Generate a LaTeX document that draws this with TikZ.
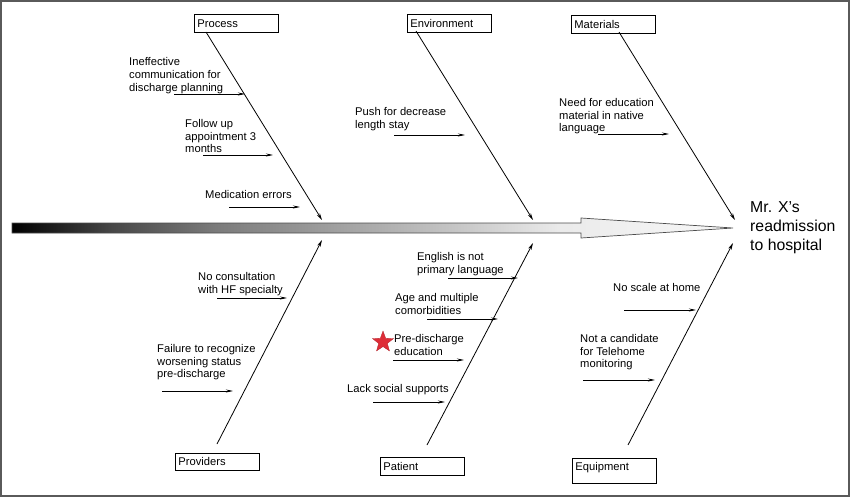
\documentclass[tikz,border=0pt]{standalone}
\usepackage{fontspec}
\setmainfont{Liberation Sans}
\usetikzlibrary{arrows.meta,shapes.geometric}
\definecolor{starred}{RGB}{222,45,55}
\definecolor{framegray}{RGB}{90,90,90}
\pgfdeclarehorizontalshading{spineshade}{100bp}{color(0bp)=(black); color(25bp)=(black); color(32bp)=(black!72); color(39bp)=(black!52); color(47bp)=(black!38); color(56bp)=(black!22); color(63bp)=(black!8); color(75bp)=(black!3); color(100bp)=(black!3)}
\begin{document}
\begin{tikzpicture}[x=1pt,y=-1pt,
  lbl/.style={anchor=north west,inner sep=0pt,align=left,font=\fontsize{11.2}{12.8}\selectfont},
  box/.style={draw,line width=0.8pt,anchor=north west,inner sep=0pt,minimum width=84pt,minimum height=18pt,font=\fontsize{11.2}{12.8}\selectfont,text width=78pt,align=left},
  bone/.style={line width=0.8pt,-{Stealth[length=7pt,width=3.5pt]}},
  sub/.style={line width=0.7pt,-{Stealth[length=7pt,width=3pt]}}]
\useasboundingbox (0,0) rectangle (850,497);
\draw[framegray,line width=1.6pt] (1,1) rectangle (849,496);

% spine
\shadedraw[shading=spineshade,draw=black!70,line width=0.7pt]
  (12,223) -- (581,223) -- (581,218) -- (733,228) -- (581,238) -- (581,233) -- (12,233) -- cycle;
\coordinate (head) at (733,228);

% category boxes
\node[box] (process) at (194,14) {Process};
\node[box] (environment) at (407,14) {Environment};
\node[box] (materials) at (571,15) {Materials};
\node[box,minimum height=17pt] (providers) at (175,453) {Providers};
\node[box] (patient) at (380,457) {Patient};
\node[box,minimum height=25pt,text depth=8pt] (equipment) at (572,458) {Equipment};

% bone endpoints
\coordinate (p0) at (206,32);   \coordinate (p1) at (322,220);
\coordinate (e0) at (416,31);   \coordinate (e1) at (533,220);
\coordinate (m0) at (619,32);   \coordinate (m1) at (735,220);
\coordinate (v0) at (217,444);  \coordinate (v1) at (322,240);
\coordinate (t0) at (427,445);  \coordinate (t1) at (533,243);
\coordinate (q0) at (628,445);  \coordinate (q1) at (733,243);
\draw[bone] (p0) -- (p1);
\draw[bone] (e0) -- (e1);
\draw[bone] (m0) -- (m1);
\draw[bone] (v0) -- (v1);
\draw[bone] (t0) -- (t1);
\draw[bone] (q0) -- (q1);

% effect
\node[anchor=north west,inner sep=0pt,align=left,font=\fontsize{15.8}{19}\selectfont] (effect) at (750,201) {Mr. X's\\readmission\\to hospital};

% cause labels
\node[lbl] (c1) at (129,57.5) {Ineffective\\communication for\\discharge planning};
\node[lbl] (c2) at (185,119) {Follow up\\appointment 3\\months};
\node[lbl] (c3) at (205,190) {Medication errors};
\node[lbl] (c4) at (355,107) {Push for decrease\\length stay};
\node[lbl] (c5) at (559,98) {Need for education\\material in native\\language};
\node[lbl] (c6) at (198,272) {No consultation\\with HF specialty};
\node[lbl] (c7) at (157,344) {Failure to recognize\\worsening status\\pre-discharge};
\node[lbl] (c8) at (417,252) {English is not\\primary language};
\node[lbl] (c9) at (395,293) {Age and multiple\\comorbidities};
\node[lbl] (c10) at (394,334) {Pre-discharge\\education};
\node[lbl] (c11) at (347,384) {Lack social supports};
\node[lbl] (c12) at (613,283) {No scale at home};
\node[lbl] (c13) at (580,334) {Not a candidate\\for Telehome\\monitoring};

\node[star,star points=5,star point ratio=2.4,fill=starred,draw=starred!80!black,line width=0.3pt,minimum size=22pt,inner sep=0pt] (star) at (383,342) {};

% cause arrows
\coordinate (a1s) at (174,94);  \coordinate (a1e) at (245,94);
\coordinate (a2s) at (203,155); \coordinate (a2e) at (273,155);
\coordinate (a3s) at (229,207); \coordinate (a3e) at (300,207);
\coordinate (a4s) at (394,135); \coordinate (a4e) at (465,135);
\coordinate (a5s) at (598,134); \coordinate (a5e) at (669,134);
\coordinate (a6s) at (217,298); \coordinate (a6e) at (287,298);
\coordinate (a7s) at (162,391); \coordinate (a7e) at (233,391);
\coordinate (a8s) at (448,278); \coordinate (a8e) at (518,278);
\coordinate (a9s) at (427,319); \coordinate (a9e) at (498,319);
\coordinate (a10s) at (393,360); \coordinate (a10e) at (464,360);
\coordinate (a11s) at (373,402); \coordinate (a11e) at (445,402);
\coordinate (a12s) at (624,310); \coordinate (a12e) at (696,310);
\coordinate (a13s) at (583,380); \coordinate (a13e) at (655,380);
\foreach \i in {1,...,13} {\draw[sub] (a\i s) -- (a\i e);}
\end{tikzpicture}
\end{document}
